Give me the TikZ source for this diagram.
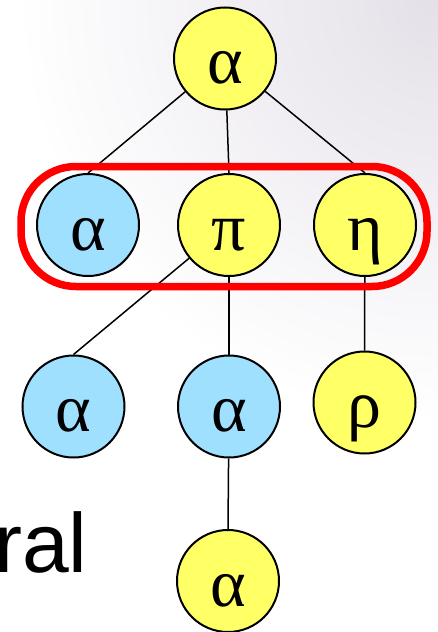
\documentclass[tikz,border=0pt]{standalone}
\usepackage{fontspec}
\setmainfont{Liberation Serif}
\newfontfamily\sansf{Liberation Sans}
\definecolor{nodeyellow}{RGB}{255,255,102}
\definecolor{nodeblue}{RGB}{160,224,255}
\definecolor{bggray}{RGB}{228,224,232}
\begin{document}
\begin{tikzpicture}[x=1pt,y=-1pt,
  treenode/.style={circle, draw=black, line width=2pt, minimum size=102pt, inner sep=0pt,
    font=\fontsize{68}{68}\selectfont, text height=50pt, text depth=0pt},
  ynode/.style={treenode, fill=nodeyellow},
  bnode/.style={treenode, fill=nodeblue},
  link/.style={line width=1.5pt},
  groupbox/.style={draw=red, line width=7.5pt, rounded corners=55pt}]
\useasboundingbox (0,0) rectangle (438,632);
\clip (0,0) rectangle (438,632);
\fill[white] (0,0) rectangle (438,632);
\shade[inner color=bggray, outer color=white] (438,0) circle (420);
% nodes
\node[ynode] (top) at (225,58.5) {α};
\node[bnode] (a1) at (88,225) {α};
\node[ynode] (p) at (229,225) {π};
\node[ynode] (h) at (365,225) {η};
\node[bnode] (a2) at (73.5,406.5) {α};
\node[bnode] (a3) at (229,406.5) {α};
\node[ynode] (r) at (364.5,402.5) {ρ};
\node[ynode] (a4) at (228,581) {α};
\node[anchor=base west, inner sep=0pt, font=\sansf\fontsize{84}{84}\selectfont] (ral) at (-6,572) {ral};
% connectors
\draw[link] (top) -- (a1.north);
\draw[link] (top) -- (p.north);
\draw[link] (top) -- (h.north);
\draw[link] (p) -- (a2.north);
\draw[link] (p) -- (a3.north);
\draw[link] (h) -- (r.north);
\draw[link] (a3) -- (a4.north);
% group outline
\draw[groupbox] (21,166.5) rectangle (427,286.5);
\end{tikzpicture}
\end{document}
